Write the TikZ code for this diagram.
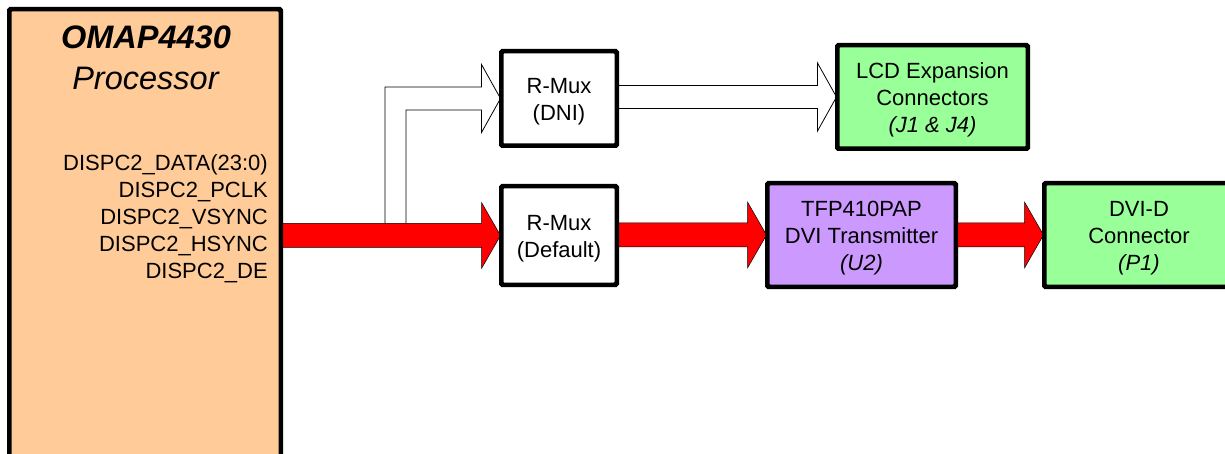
\documentclass[tikz,border=0pt]{standalone}
\usepackage{fontspec}
\setmainfont{Liberation Sans}
\usetikzlibrary{calc}
\definecolor{peach}{HTML}{FFCC99}
\definecolor{lgreen}{HTML}{99FF99}
\definecolor{lpurple}{HTML}{CC99FF}
\newcommand\fatarr[5]{%
  \path[#5] let \p1=(#1), \p2=(#2) in
    (\x1,\y2+#3) -- (\x2-19pt,\y2+#3) -- (\x2-19pt,\y2+#4) -- (\x2,\y2)
    -- (\x2-19pt,\y2-#4) -- (\x2-19pt,\y2-#3) -- (\x1,\y2-#3) -- cycle;}
\newcommand\dn{\rule{0pt}{22pt}}
\begin{document}
\begin{tikzpicture}[x=1pt,y=-1pt,
  box/.style={draw=black, line width=3pt, rounded corners=1.5pt, align=center,
    font=\fontsize{22}{27}\selectfont, inner sep=0pt},
  fat/.style={fill=red, draw=black, line width=0.5pt},
  hollow/.style={fill=white, draw=black, line width=0.8pt},
  sig/.style={font=\fontsize{22}{27}\selectfont, align=right, inner sep=0pt}]
\useasboundingbox (0,0) rectangle (1225,454);
\clip (0,0) rectangle (1225,454);

% boxes
\node[box, fill=peach, minimum width=270pt, minimum height=470pt] (proc) at (145,245) {};
\node[box, fill=white, minimum width=114pt, minimum height=93pt] (rm1) at (559,98.5) {\dn R-Mux\\(DNI)};
\node[box, fill=white, minimum width=114pt, minimum height=97pt] (rm2) at (559,235.5) {\dn R-Mux\\(Default)};
\node[box, fill=lgreen, minimum width=189pt, minimum height=102pt] (lcd) at (932.5,97) {\dn LCD Expansion\\Connectors\\\textit{(J1 \& J4)}};
\node[box, fill=lpurple, minimum width=187pt, minimum height=102pt] (tfp) at (861.5,235) {\dn TFP410PAP\\DVI Transmitter\\\textit{(U2)}};
\node[box, fill=lgreen, minimum width=188pt, minimum height=102pt] (dvi) at (1139,235) {\dn DVI-D\\Connector\\\textit{(P1)}};

% processor texts
\node[font=\fontsize{32.5}{41}\selectfont, align=center] (title) at (146,58) {\textbf{\textit{OMAP4430}}\\\textit{Processor}};
\node[sig, anchor=east] (sigs) at (268,219) {DISPC2\_DATA(23:0)\\DISPC2\_PCLK\\DISPC2\_VSYNC\\DISPC2\_HSYNC\\DISPC2\_DE};

% branch (hollow) arrow to R-Mux (DNI)
\coordinate (brL) at (385,0);
\coordinate (brR) at (406,0);
\draw[hollow] let \p1=(rm1.west), \p2=(rm2.west), \p3=(brL), \p4=(brR) in
  (\x3,\y2+12pt) -- (\x3,\y1+11.5pt) -- (\x1-19pt,\y1+11.5pt) -- (\x1-19pt,\y1+34pt)
  -- (\x1,\y1) -- (\x1-19pt,\y1-34pt) -- (\x1-19pt,\y1-11.5pt) -- (\x4,\y1-11.5pt)
  -- (\x4,\y2+12pt);

% arrows
\fatarr{proc.east}{rm2.west}{12pt}{33pt}{fat}
\fatarr{rm2.east}{tfp.west}{12pt}{33pt}{fat}
\fatarr{tfp.east}{dvi.west}{12pt}{33pt}{fat}
\fatarr{rm1.east}{lcd.west}{11.5pt}{34pt}{hollow}

% redraw box borders over arrow ends
\foreach \n in {proc,rm1,rm2,lcd,tfp,dvi}{
  \draw[line width=3pt, rounded corners=1.5pt] (\n.north west) rectangle (\n.south east);
}
\end{tikzpicture}
\end{document}
